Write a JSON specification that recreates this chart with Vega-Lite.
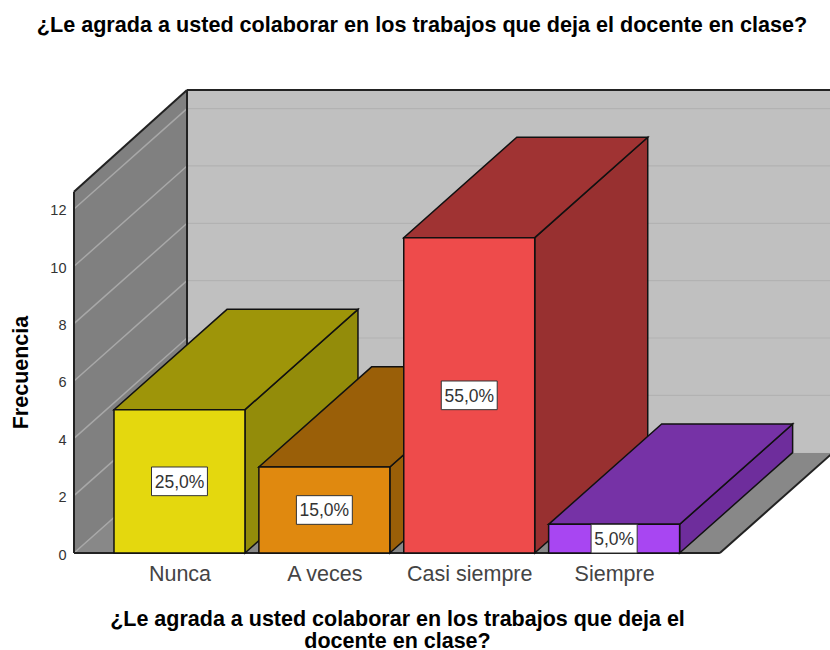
{"$schema":"https://vega.github.io/schema/vega-lite/v6.json","width":756,"height":463,"autosize":{"type":"none"},"padding":{"left":74,"top":90,"right":0,"bottom":97},"background":"white","view":{"stroke":null},
"config":{"axis":{"grid":false}},
"resolve":{"scale":{"fill":"independent"}},
"title":{"text":"¿Le agrada a usted colaborar en los trabajos que deja el docente en clase?","anchor":"middle","frame":"group","dx":-30,"offset":52,"font":"Liberation Sans","fontSize":21.6,"fontWeight":"bold","color":"#000000"},
"datasets":{"bars":[{"cat":"Nunca","pos":1,"value":5,"pct":"25,0%","steps":[0,1]},{"cat":"A veces","pos":2,"value":3,"pct":"15,0%","steps":[0,1]},{"cat":"Casi siempre","pos":3,"value":11,"pct":"55,0%","steps":[0,1]},{"cat":"Siempre","pos":4,"value":1,"pct":"5,0%","steps":[0,1]}],"ticks":[{"v":0},{"v":2},{"v":4},{"v":6},{"v":8},{"v":10},{"v":12}],"depth":[{"t":0},{"t":1}],"wall":[{"part":"back"}],"edges":[{"e":"frontLeft"},{"e":"corner"},{"e":"slope"},{"e":"top"},{"e":"baseline"},{"e":"floorRight"}]},
"data":{"name":"wall"},
"layer":[
{"data":{"name":"wall"},"transform":[{"calculate":"1.052","as":"x0"},{"calculate":"5.49","as":"x1"},{"calculate":"3.5","as":"y0"},{"calculate":"16.15","as":"y1"}],"mark":{"type":"rect","fill":"#C0C0C0","clip":true},"encoding":{"x":{"field":"x0","type":"quantitative","scale":{"domain":[0.272,5.49],"nice":false,"zero":false},"axis":{"values":[1,2,3,4],"labelExpr":"datum.value==1?'Nunca':datum.value==2?'A veces':datum.value==3?'Casi siempre':'Siempre'","domain":false,"ticks":false,"grid":false,"labelFont":"Liberation Sans","labelFontSize":21.5,"labelColor":"#444444","labelPadding":10,"labelOverlap":false,"labelFlush":false,"title":["¿Le agrada a usted colaborar en los trabajos que deja el","docente en clase?"],"titleFont":"Liberation Sans","titleFontSize":21.5,"titleFontWeight":"bold","titleColor":"#000000","titleLineHeight":22,"titleX":323,"titleY":55}},"x2":{"field":"x1"},"y":{"field":"y0","type":"quantitative","scale":{"domain":[0,16.15],"nice":false,"zero":false},"axis":{"values":[0,2,4,6,8,10,12],"domain":false,"grid":false,"ticks":false,"labelFont":"Liberation Sans","labelFontSize":14.5,"labelColor":"#333333","labelPadding":8,"labelOffset":2,"title":"Frecuencia","titleFont":"Liberation Sans","titleFontSize":21.5,"titleFontWeight":"bold","titleColor":"#000000","titleX":-42,"titleY":282}},"y2":{"field":"y1"}}},
{"data":{"name":"depth"},"transform":[{"calculate":"0.272+datum.t*0.78","as":"x"},{"calculate":"datum.t*3.5","as":"y0"},{"calculate":"12.6+datum.t*3.55","as":"y1"}],"mark":{"type":"area","fill":"#808080"},"encoding":{"x":{"field":"x","type":"quantitative","scale":{"domain":[0.272,5.49],"nice":false,"zero":false}},"y":{"field":"y0","type":"quantitative","scale":{"domain":[0,16.15],"nice":false,"zero":false}},"y2":{"field":"y1"}}},
{"data":{"name":"depth"},"transform":[{"calculate":"datum.t*3.5","as":"y"},{"calculate":"0.272+datum.t*0.78","as":"x0"},{"calculate":"4.73+datum.t*0.78","as":"x1"}],"mark":{"type":"area","fill":"#888888","orient":"horizontal","clip":true},"encoding":{"y":{"field":"y","type":"quantitative","scale":{"domain":[0,16.15],"nice":false,"zero":false}},"x":{"field":"x0","type":"quantitative","scale":{"domain":[0.272,5.49],"nice":false,"zero":false}},"x2":{"field":"x1"}}},
{"data":{"name":"ticks"},"transform":[{"calculate":"datum.v+3.5","as":"yb"},{"calculate":"1.052","as":"x0"},{"calculate":"5.49","as":"x1"},{"filter":"datum.v>0"}],"mark":{"type":"rule","color":"#B2B2B2","strokeWidth":1.2,"clip":true},"encoding":{"x":{"field":"x0","type":"quantitative","scale":{"domain":[0.272,5.49],"nice":false,"zero":false}},"x2":{"field":"x1"},"y":{"field":"yb","type":"quantitative","scale":{"domain":[0,16.15],"nice":false,"zero":false}}}},
{"data":{"name":"ticks"},"transform":[{"calculate":"datum.v+3.5","as":"yb"},{"calculate":"0.272","as":"x0"},{"calculate":"1.052","as":"x1"}],"mark":{"type":"rule","color":"#A8A8A8","strokeWidth":1.5},"encoding":{"x":{"field":"x0","type":"quantitative","scale":{"domain":[0.272,5.49],"nice":false,"zero":false}},"x2":{"field":"x1"},"y":{"field":"v","type":"quantitative","scale":{"domain":[0,16.15],"nice":false,"zero":false}},"y2":{"field":"yb"}}},
{"data":{"name":"edges"},"transform":[{"calculate":"{frontLeft:0.272,corner:1.052,slope:0.272,top:1.052,baseline:0.272,floorRight:4.73}[datum.e]","as":"x0"},{"calculate":"{frontLeft:0.272,corner:1.052,slope:1.052,top:5.49,baseline:4.73,floorRight:5.51}[datum.e]","as":"x1"},{"calculate":"{frontLeft:0,corner:3.5,slope:12.6,top:16.15,baseline:0,floorRight:0}[datum.e]","as":"y0"},{"calculate":"{frontLeft:12.6,corner:16.15,slope:16.15,top:16.15,baseline:0,floorRight:3.5}[datum.e]","as":"y1"}],"mark":{"type":"rule","color":"#222222","strokeWidth":2},"encoding":{"x":{"field":"x0","type":"quantitative","scale":{"domain":[0.272,5.49],"nice":false,"zero":false}},"x2":{"field":"x1"},"y":{"field":"y0","type":"quantitative","scale":{"domain":[0,16.15],"nice":false,"zero":false}},"y2":{"field":"y1"}}},
{"data":{"name":"bars"},"transform":[{"flatten":["steps"],"as":["t"]},{"calculate":"datum.pos+0.452+datum.t*0.78","as":"x"},{"calculate":"datum.t*3.5","as":"y0"},{"calculate":"datum.value+datum.t*3.5","as":"y1"}],"mark":{"type":"area","stroke":"#111111","strokeWidth":1.5},"encoding":{"x":{"field":"x","type":"quantitative","scale":{"domain":[0.272,5.49],"nice":false,"zero":false}},"y":{"field":"y0","type":"quantitative","scale":{"domain":[0,16.15],"nice":false,"zero":false}},"y2":{"field":"y1"},"fill":{"field":"cat","type":"nominal","legend":null,"scale":{"domain":["Nunca","A veces","Casi siempre","Siempre"],"range":["#938C0A","#9A5F08","#983030","#6E2D9C"]}}}},
{"data":{"name":"bars"},"transform":[{"flatten":["steps"],"as":["t"]},{"calculate":"datum.value+datum.t*3.5","as":"y"},{"calculate":"datum.pos-0.452+datum.t*0.78","as":"x0"},{"calculate":"datum.pos+0.452+datum.t*0.78","as":"x1"}],"mark":{"type":"area","stroke":"#111111","strokeWidth":1.5,"orient":"horizontal"},"encoding":{"y":{"field":"y","type":"quantitative","scale":{"domain":[0,16.15],"nice":false,"zero":false}},"x":{"field":"x0","type":"quantitative","scale":{"domain":[0.272,5.49],"nice":false,"zero":false}},"x2":{"field":"x1"},"fill":{"field":"cat","type":"nominal","legend":null,"scale":{"domain":["Nunca","A veces","Casi siempre","Siempre"],"range":["#9E9509","#9A5F08","#A03333","#7632A6"]}}}},
{"data":{"name":"bars"},"transform":[{"calculate":"datum.pos-0.452","as":"x0"},{"calculate":"datum.pos+0.452","as":"x1"},{"calculate":"0","as":"y0"}],"mark":{"type":"rect","stroke":"#111111","strokeWidth":1.5},"encoding":{"x":{"field":"x0","type":"quantitative","scale":{"domain":[0.272,5.49],"nice":false,"zero":false}},"x2":{"field":"x1"},"y":{"field":"y0","type":"quantitative","scale":{"domain":[0,16.15],"nice":false,"zero":false}},"y2":{"field":"value"},"fill":{"field":"cat","type":"nominal","legend":null,"scale":{"domain":["Nunca","A veces","Casi siempre","Siempre"],"range":["#E4D80E","#E0890F","#EE4B4B","#A846F2"]}}}},
{"data":{"name":"bars"},"transform":[{"calculate":"length(datum.pct)==4?0.159:0.193","as":"hw"},{"calculate":"datum.pos-datum.hw","as":"x0"},{"calculate":"datum.pos+datum.hw","as":"x1"},{"calculate":"datum.value/2-0.5","as":"y0"},{"calculate":"datum.value/2+0.5","as":"y1"}],"mark":{"type":"rect","fill":"#FFFFFF","stroke":"#333333","strokeWidth":1},"encoding":{"x":{"field":"x0","type":"quantitative","scale":{"domain":[0.272,5.49],"nice":false,"zero":false}},"x2":{"field":"x1"},"y":{"field":"y0","type":"quantitative","scale":{"domain":[0,16.15],"nice":false,"zero":false}},"y2":{"field":"y1"}}},
{"data":{"name":"bars"},"transform":[{"calculate":"datum.value/2","as":"ym"}],"mark":{"type":"text","font":"Liberation Sans","fontSize":17.5,"color":"#333333","baseline":"middle","align":"center","dy":1.5},"encoding":{"x":{"field":"pos","type":"quantitative","scale":{"domain":[0.272,5.49],"nice":false,"zero":false}},"y":{"field":"ym","type":"quantitative","scale":{"domain":[0,16.15],"nice":false,"zero":false}},"text":{"field":"pct"}}}
]}
